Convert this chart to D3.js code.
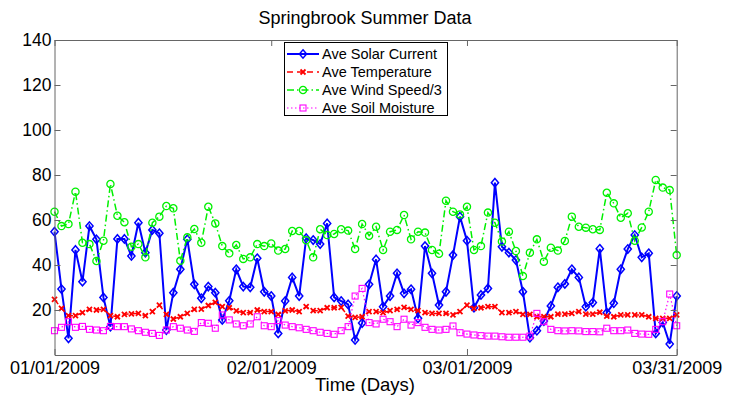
<!DOCTYPE html>
<html>
<head>
<meta charset="utf-8">
<script src="https://cdn.jsdelivr.net/npm/d3@7"></script>
<style>
  body { margin: 0; background: #fff; }
  svg { font-family: "Liberation Sans", Arial, sans-serif; }
</style>
</head>
<body>
<svg id="chart" width="731" height="399"></svg>
<script>
(() => {
  // daily values, 01/01/2009 .. 03/31/2009
  const startDate = new Date(2009, 0, 1);

  const solar = [54.8, 29.3, 7.4, 46.7, 32.6, 57.3, 51.4, 25.6, 12.6, 51.6,
    51.6, 44.0, 58.8, 45.5, 55.6, 54.1, 11.1, 27.7, 38.1, 51.4,
    31.4, 25.2, 30.4, 27.7, 15.6, 24.1, 38.1, 30.4, 30.1, 43.0,
    28.1, 26.2, 9.6, 24.0, 34.5, 26.2, 51.9, 51.1, 49.3, 58.5,
    25.6, 24.0, 22.5, 6.7, 14.2, 31.4, 42.5, 21.5, 26.2, 36.3,
    27.4, 29.2, 16.3, 48.4, 36.3, 22.2, 28.1, 44.4, 61.5, 50.8,
    21.0, 26.7, 29.6, 76.6, 48.1, 45.5, 42.2, 28.1, 7.7, 10.8,
    15.1, 21.8, 30.1, 31.6, 38.1, 34.5, 21.5, 23.3, 47.2, 18.8,
    23.0, 38.1, 47.1, 53.3, 43.4, 45.2, 9.6, 14.5, 4.9, 26.2];

  const temperature = [24.7, 20.7, 17.5, 17.5, 18.8, 20.3, 20.0, 20.3, 17.5, 17.0,
    18.1, 18.3, 18.5, 17.5, 19.3, 22.2, 18.1, 16.0, 17.0, 18.5,
    20.3, 20.4, 22.0, 23.4, 21.5, 21.0, 19.6, 18.8, 18.8, 20.0,
    19.3, 19.3, 18.1, 19.6, 20.0, 19.3, 21.5, 19.7, 19.7, 21.0,
    21.0, 21.2, 17.3, 16.7, 17.0, 19.3, 19.3, 18.8, 19.7, 20.3,
    21.2, 20.3, 19.7, 18.8, 18.5, 18.5, 18.5, 17.8, 19.3, 22.2,
    20.7, 21.0, 21.5, 21.5, 18.8, 18.8, 19.3, 18.1, 18.1, 17.0,
    17.0, 17.0, 18.2, 18.2, 18.5, 19.3, 18.2, 18.2, 19.0, 17.3,
    17.0, 17.8, 17.8, 17.8, 17.8, 17.0, 16.3, 16.3, 16.3, 17.8];

  const windThird = [63.7, 57.3, 58.2, 72.6, 49.9, 49.3, 41.8, 50.8, 76.0, 61.9,
    59.0, 48.1, 49.3, 43.4, 58.8, 61.5, 66.2, 65.2, 41.9, 52.3,
    56.0, 49.9, 65.9, 58.5, 48.4, 45.2, 48.9, 42.7, 43.4, 49.3,
    48.4, 49.6, 46.4, 47.1, 55.1, 55.1, 51.0, 43.4, 55.9, 53.3,
    53.8, 55.9, 55.3, 47.1, 58.2, 53.0, 57.0, 46.7, 54.8, 55.6,
    62.2, 51.4, 54.8, 54.4, 46.7, 45.0, 68.6, 63.7, 62.5, 65.9,
    46.7, 48.4, 63.3, 58.8, 50.4, 54.8, 46.2, 35.1, 45.5, 51.4,
    41.5, 47.7, 46.4, 50.7, 61.5, 57.0, 56.6, 55.9, 55.6, 72.1,
    67.4, 61.0, 63.0, 50.8, 56.7, 63.7, 77.8, 74.4, 73.3, 44.4];

  const soil = [10.8, 12.3, 14.8, 12.3, 12.7, 11.4, 11.1, 10.8, 12.7, 12.6,
    12.6, 11.6, 10.8, 10.1, 9.6, 8.7, 11.1, 12.6, 11.9, 11.1,
    10.5, 14.4, 14.1, 11.9, 17.8, 15.6, 13.8, 13.0, 13.8, 17.0,
    13.0, 12.6, 15.3, 13.3, 12.6, 12.1, 11.4, 10.8, 10.1, 9.6,
    9.2, 10.8, 12.6, 26.2, 29.6, 14.4, 13.8, 15.9, 14.8, 12.6,
    15.9, 13.3, 14.4, 12.3, 11.4, 11.1, 11.4, 12.9, 9.9, 9.3,
    8.9, 8.6, 8.4, 8.4, 8.1, 7.9, 7.9, 7.9, 8.4, 18.5,
    14.8, 11.4, 10.8, 10.7, 10.8, 10.7, 10.4, 10.4, 10.3, 11.9,
    10.8, 10.8, 11.1, 9.6, 9.3, 9.2, 11.4, 14.8, 27.1, 13.0];

  const seriesNames = ['Ave Solar Current', 'Ave Temperature', 'Ave Wind Speed/3', 'Ave Soil Moisture'];
  const xTickDates = [new Date(2009, 0, 1), new Date(2009, 1, 1), new Date(2009, 2, 1), new Date(2009, 2, 31)];
  const yTickValues = [20, 40, 60, 80, 100, 120, 140];

  const days = solar.map((_, i) => d3.timeDay.offset(startDate, i));

  const series = [
    { name: seriesNames[0], values: solar, color: '#0000ff', width: 2, dash: null, marker: 'diamond' },
    { name: seriesNames[1], values: temperature, color: '#ff0000', width: 1.5, dash: '6,4', marker: 'x' },
    { name: seriesNames[2], values: windThird, color: '#00f000', width: 1.5, dash: '7,3,1.5,3', marker: 'circle' },
    { name: seriesNames[3], values: soil, color: '#ff00ff', width: 1.2, dash: '1.5,2.5', marker: 'square' }
  ];

  const svg = d3.select('#chart');
  const W = 731, H = 399;
  const m = { top: 40, right: 54.3, bottom: 44, left: 54.5 };

  const x = d3.scaleTime()
    .domain([days[0], days[days.length - 1]])
    .range([m.left, W - m.right]);
  const y = d3.scaleLinear()
    .domain([0, 140])
    .range([H - m.bottom, m.top]);

  const axisColor = '#666';
  const fmt = d3.timeFormat('%m/%d/%Y');

  // title + axis label
  svg.append('text')
    .attr('x', 365).attr('y', 24)
    .attr('text-anchor', 'middle')
    .attr('font-size', 18)
    .text('Springbrook Summer Data');

  svg.append('text')
    .attr('x', 365).attr('y', 391)
    .attr('text-anchor', 'middle')
    .attr('font-size', 18.5)
    .text('Time (Days)');

  // series
  const line = d3.line().x((d, i) => x(days[i])).y(d => y(d));
  const plot = svg.append('g');

  function drawMarker(g, kind, color) {
    if (kind === 'diamond') {
      g.append('path').attr('d', 'M0,-4.2L3.6,0L0,4.2L-3.6,0Z')
        .attr('fill', 'none').attr('stroke', color).attr('stroke-width', 1.5);
    } else if (kind === 'x') {
      g.append('path').attr('d', 'M-2.5,-2.5L2.5,2.5M-2.5,2.5L2.5,-2.5')
        .attr('stroke', color).attr('stroke-width', 1.8);
    } else if (kind === 'circle') {
      g.append('circle').attr('r', 3.6)
        .attr('fill', 'none').attr('stroke', color).attr('stroke-width', 1.3);
    } else {
      g.append('rect').attr('x', -3).attr('y', -3).attr('width', 6).attr('height', 6)
        .attr('fill', 'none').attr('stroke', color).attr('stroke-width', 1.1);
    }
  }

  series.forEach(s => {
    const g = plot.append('g');
    g.append('path')
      .datum(s.values)
      .attr('d', line)
      .attr('fill', 'none')
      .attr('stroke', s.color)
      .attr('stroke-width', s.width)
      .attr('stroke-dasharray', s.dash);
    g.selectAll('g.mk')
      .data(s.values)
      .join('g')
      .attr('class', 'mk')
      .attr('transform', (d, i) => `translate(${x(days[i])},${y(d)})`)
      .each(function() { drawMarker(d3.select(this), s.marker, s.color); });
  });

  // axes (MATLAB style box with inward ticks)
  const styleAxis = g => {
    g.select('.domain').attr('stroke', axisColor);
    g.selectAll('.tick line').attr('stroke', axisColor);
    g.selectAll('.tick text').attr('fill', '#000');
  };

  svg.append('g')
    .attr('transform', `translate(${m.left},0)`)
    .call(d3.axisLeft(y).tickValues(yTickValues).tickSize(-6).tickSizeOuter(0).tickPadding(3))
    .call(styleAxis)
    .call(g => g.selectAll('.tick text').attr('font-size', 17.5).attr('font-family', 'Liberation Sans, Arial, sans-serif'));

  svg.append('g')
    .attr('transform', `translate(${W - m.right},0)`)
    .call(d3.axisRight(y).tickValues(yTickValues).tickSize(-6).tickSizeOuter(0).tickFormat(''))
    .call(styleAxis);

  svg.append('g')
    .attr('transform', `translate(0,${H - m.bottom})`)
    .call(d3.axisBottom(x).tickValues(xTickDates).tickFormat(fmt).tickSize(-6).tickSizeOuter(0).tickPadding(6))
    .call(styleAxis)
    .call(g => g.selectAll('.tick text').attr('font-size', 18).attr('font-family', 'Liberation Sans, Arial, sans-serif'));

  svg.append('g')
    .attr('transform', `translate(0,${m.top})`)
    .call(d3.axisTop(x).tickValues(xTickDates).tickSize(-6).tickSizeOuter(0).tickFormat(''))
    .call(styleAxis);

  // legend
  const lg = svg.append('g').attr('transform', 'translate(284,42)');
  lg.append('rect')
    .attr('x', 0.5).attr('y', 0.5)
    .attr('width', 163).attr('height', 73)
    .attr('fill', '#fff').attr('stroke', '#000').attr('stroke-width', 1);

  series.forEach((s, i) => {
    const row = lg.append('g').attr('transform', `translate(0,${12 + i * 18})`);
    row.append('line')
      .attr('x1', 3).attr('x2', 35).attr('y1', 0).attr('y2', 0)
      .attr('stroke', s.color).attr('stroke-width', s.width)
      .attr('stroke-dasharray', s.dash);
    drawMarker(row.append('g').attr('transform', 'translate(19,0)'), s.marker, s.color);
    row.append('text')
      .attr('x', 38).attr('y', 5)
      .attr('font-size', 14.5)
      .text(s.name);
  });
})();
</script>
</body>
</html>
